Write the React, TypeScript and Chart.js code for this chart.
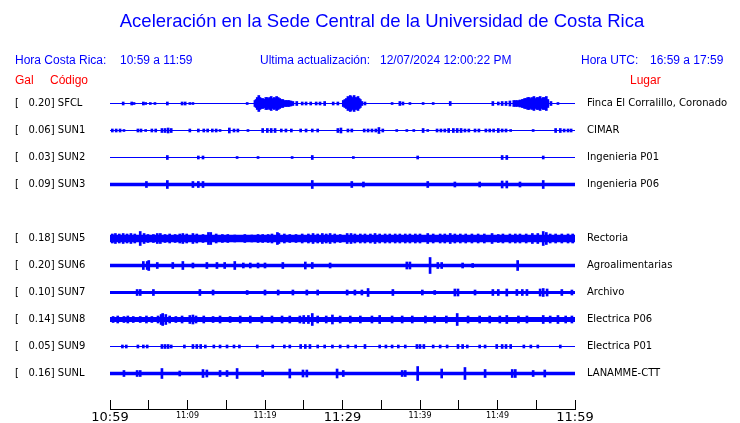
import React, { useEffect, useRef } from 'react';
import { Chart, registerables } from 'chart.js';

Chart.register(...registerables);

const TITLE = 'Aceleración en la Sede Central de la Universidad de Costa Rica';
const HEADER_BLUE: [string, number][] = [
  ['Hora Costa Rica:', 15],
  ['10:59 a 11:59', 120],
  ['Ultima actualización:', 260],
  ['12/07/2024 12:00:22 PM', 380],
  ['Hora UTC:', 581],
  ['16:59 a 17:59', 650],
];
const HEADER_RED: [string, number][] = [
  ['Gal', 15],
  ['Código', 50],
  ['Lugar', 630],
];

const CODES = ['SFCL', 'SUN1', 'SUN2', 'SUN3', 'SUN5', 'SUN6', 'SUN7', 'SUN8', 'SUN9', 'SUNL'];
const SLOTS = [0, 1, 2, 3, 5, 6, 7, 8, 9, 10];
const GAL = ['0.20', '0.06', '0.03', '0.09', '0.18', '0.20', '0.10', '0.14', '0.05', '0.16'];
const PLACES = [
  'Finca El Corralillo, Coronado',
  'CIMAR',
  'Ingenieria P01',
  'Ingenieria P06',
  'Rectoria',
  'Agroalimentarias',
  'Archivo',
  'Electrica P06',
  'Electrica P01',
  'LANAMME-CTT',
];
// background noise half-amplitude (display units) per station
const NOISE = [0.5, 0.5, 0.5, 1.7, 3.8, 1.8, 1.6, 2.4, 0.5, 1.8];

const X_TICK_LABELS = ['10:59', '', '11:09', '', '11:19', '', '11:29', '', '11:39', '', '11:49', '', '11:59'];

// [minute since 10:59, half amplitude]
const SFCL_EVENTS: [number, number][] = [
  [1.7, 1.5], [2.8, 1.5], [3.1, 1], [4.3, 1.5], [4.6, 1], [5.2, 1], [5.8, 1], [7.4, 1.5], [9.3, 1.5], [9.7, 1.5],
  [10.3, 1], [10.7, 1], [17.7, 1],
  [18.7, 3], [18.85, 4], [19.0, 6], [19.2, 8], [19.35, 6], [19.5, 5], [19.7, 5], [19.9, 4], [20.0, 4], [20.1, 6],
  [20.25, 6], [20.4, 5], [20.6, 6], [20.8, 7], [21.0, 5], [21.2, 6], [21.35, 5], [21.5, 7], [21.7, 6], [21.9, 5],
  [22.1, 4], [22.3, 4], [22.5, 3], [22.7, 3], [22.9, 3], [23.1, 3], [23.35, 2.5], [23.6, 2], [24.1, 2], [24.8, 1.5],
  [25.3, 1.5], [25.9, 1.5], [26.6, 1.5], [27.1, 1.5], [27.7, 2], [28.8, 1.5], [29.4, 1.5],
  [30.1, 3], [30.3, 4], [30.5, 5], [30.7, 7], [30.85, 6], [31.0, 8], [31.1, 7], [31.2, 6], [31.35, 5], [31.5, 8],
  [31.6, 6], [31.7, 5], [31.85, 6], [32.0, 7], [32.15, 5], [32.3, 4], [32.5, 2], [32.9, 1.5],
  [36.4, 1], [37.4, 2], [37.8, 1.5], [38.7, 1], [40.4, 1], [41.7, 1], [43.9, 2],
  [49.4, 2], [50.1, 1.5], [50.6, 2], [51.1, 2], [51.6, 2.5], [52.1, 3], [52.35, 3], [52.6, 3], [52.9, 3.5],
  [53.2, 4], [53.35, 4], [53.5, 5], [53.7, 5], [53.9, 6], [54.1, 6], [54.3, 5], [54.5, 6], [54.7, 7], [54.9, 5],
  [55.1, 6], [55.3, 6], [55.5, 7], [55.7, 5], [55.9, 6], [56.1, 6], [56.3, 7], [56.5, 4], [56.9, 2], [57.8, 1],
];
const SUN1_EVENTS: [number, number][] = [
  [0.3, 1.5], [0.8, 1.5], [1.3, 1.5], [1.8, 1], [3.6, 1.5], [4.0, 1.5], [4.6, 1], [5.4, 1.5], [5.9, 1.5],
  [6.7, 2], [7.1, 2], [7.5, 2.5], [7.9, 2], [10.3, 1.5], [11.4, 1.5], [12.1, 1.5], [12.6, 1.5], [13.2, 1.5],
  [13.7, 1.5], [14.2, 1], [15.4, 2.5], [16.0, 1.5], [16.5, 1.5], [17.8, 1], [19.7, 2], [20.3, 2], [20.8, 2],
  [21.3, 2], [22.1, 1.5], [22.7, 1.5], [23.4, 1.5], [24.6, 1.5], [25.3, 1.5], [26.1, 1.5], [26.8, 1.5],
  [29.4, 2], [29.8, 2.5], [30.7, 1.5], [31.2, 1.5], [32.8, 1.5], [33.3, 1.5], [33.8, 1.5], [34.3, 1.5],
  [34.7, 3], [35.2, 1.5], [37.0, 1], [38.3, 1], [39.2, 1], [40.4, 2], [41.0, 1], [42.2, 1.5], [42.7, 1.5],
  [43.2, 1.5], [43.7, 2], [44.3, 2], [44.8, 2], [45.3, 2], [45.8, 1.5], [46.3, 1.5], [47.1, 1.5], [47.6, 1.5],
  [48.5, 1.5], [49.0, 1.5], [49.5, 1.5], [50.1, 2], [50.6, 1.5], [51.1, 1.5], [51.7, 1], [54.6, 1],
  [57.5, 2], [58.1, 2], [58.6, 1.5], [59.1, 1.5], [59.5, 1.5],
];
const SUN2_EVENTS: [number, number][] = [
  [7.4, 2], [11.4, 1.5], [12.0, 1.5], [16.4, 1], [19.1, 1], [23.5, 1], [26.1, 2], [31.4, 1], [39.7, 1.5],
  [50.6, 2], [51.2, 2], [55.9, 1.5],
];
const SUN3_EVENTS: [number, number][] = [
  [4.7, 3], [7.4, 4], [10.7, 3], [11.4, 3], [12.0, 3], [26.1, 4], [31.2, 3], [32.7, 2.5], [41.0, 3],
  [44.5, 2.5], [47.7, 2.5], [50.6, 3.5], [51.2, 3.5], [52.9, 2.5], [55.9, 4],
];
const SUN5_EVENTS: [number, number][] = [
  [0.3, 4.5], [0.7, 5], [1.2, 4.5], [1.7, 5], [2.2, 4.5], [2.7, 5], [3.2, 4.5], [3.9, 7], [4.4, 5], [4.9, 4],
  [5.6, 4], [6.1, 5], [6.5, 5], [7.1, 4], [7.7, 4.5], [8.4, 4], [9.0, 4.5], [9.4, 5], [9.9, 4.5], [10.7, 5],
  [11.2, 4.5], [12.0, 4], [12.7, 6], [13.0, 6], [13.7, 4.5], [14.5, 4], [15.2, 4], [16.1, 3.5], [17.4, 4],
  [18.3, 3.5], [19.1, 4], [19.7, 4], [20.4, 4], [20.9, 4.5], [21.6, 6], [21.8, 5], [22.5, 4.5], [23.2, 4],
  [24.0, 4], [24.8, 4.5], [25.6, 4.5], [26.2, 5], [26.8, 4.5], [27.4, 5], [27.9, 4.5], [28.4, 5], [29.0, 4.5],
  [29.7, 4], [30.6, 5], [31.1, 5], [31.6, 4.5], [32.3, 4.5], [32.9, 4.5], [33.6, 4.5], [34.2, 5], [34.8, 4.5],
  [35.5, 4.5], [36.1, 4.5], [36.8, 4.5], [37.4, 4.5], [38.1, 4.5], [38.7, 4.5], [39.4, 4.5], [40.0, 4.5],
  [41.0, 5], [41.7, 4.5], [42.6, 4.5], [43.2, 4.5], [43.9, 5], [44.5, 4.5], [45.2, 4.5], [45.9, 4.5],
  [46.7, 4.5], [47.5, 4.5], [48.3, 4.5], [49.3, 5], [50.1, 4], [50.7, 4.5], [51.6, 4.5], [52.3, 4.5],
  [52.9, 4.5], [53.7, 4.5], [54.5, 5], [55.2, 5], [55.9, 7], [56.3, 6], [56.8, 4.5], [57.5, 4.5], [58.3, 4.5],
  [59.1, 4.5], [59.7, 4.5],
];
const SUN6_EVENTS: [number, number][] = [
  [4.3, 4], [4.8, 4], [5.0, 5], [6.1, 3], [8.1, 3], [9.4, 4], [10.7, 2.5], [12.5, 3], [13.8, 3], [14.8, 3],
  [16.1, 4], [17.2, 2.5], [18.1, 2.5], [19.1, 2.5], [20.0, 2.5], [22.3, 3], [25.2, 3.5], [26.1, 3], [28.4, 2.5],
  [38.3, 3.5], [38.7, 3.5], [41.3, 8], [42.3, 3], [42.8, 3], [45.5, 2.5], [46.8, 2], [52.6, 5],
];
const SUN7_EVENTS: [number, number][] = [
  [3.5, 3], [3.9, 3], [5.6, 3], [11.6, 3], [13.3, 2.5], [17.7, 2], [20.0, 2.5], [21.7, 2.5], [23.6, 2.5],
  [25.4, 2.5], [26.8, 2.5], [30.6, 2.5], [31.6, 2.5], [32.5, 2.5], [33.3, 4], [36.5, 3], [40.3, 2.5],
  [41.9, 2], [44.5, 3.5], [44.9, 3.5], [47.1, 2.5], [49.4, 3], [50.1, 3], [51.2, 3.5], [52.5, 3], [53.2, 3],
  [53.8, 3], [55.5, 3.5], [55.9, 4], [56.4, 3.5], [58.3, 3], [59.6, 2.5],
];
const SUN8_EVENTS: [number, number][] = [
  [0.4, 3], [1.0, 3.5], [1.8, 3], [2.3, 3.5], [3.0, 3], [3.9, 3], [4.7, 3.5], [5.4, 3], [6.2, 3.5], [6.6, 5],
  [6.8, 6], [7.2, 5], [7.7, 3.5], [8.5, 3], [9.3, 3.5], [10.3, 4], [10.7, 4.5], [11.1, 3.5], [12.1, 3.5],
  [13.3, 3], [14.2, 3.5], [15.5, 3], [16.8, 3.5], [18.1, 3.5], [19.6, 3.5], [20.9, 3.5], [22.2, 3.5],
  [23.2, 3.5], [24.5, 3.5], [25.0, 4], [25.6, 4], [26.1, 6], [26.8, 3.5], [27.9, 3.5], [28.7, 4.5],
  [29.7, 3.5], [31.0, 3.5], [32.3, 3.5], [33.8, 3.5], [34.8, 4], [36.4, 3.5], [37.7, 3.5], [39.0, 3.5],
  [40.7, 3.5], [41.9, 3.5], [43.4, 3.5], [44.8, 6], [46.2, 3.5], [47.7, 3.5], [49.0, 3.5], [50.3, 3.5],
  [51.2, 4], [52.7, 3.5], [53.8, 3.5], [55.9, 4], [56.8, 3.5], [57.8, 4], [58.8, 3.5], [59.6, 3.5],
];
const SUN9_EVENTS: [number, number][] = [
  [1.6, 1.5], [2.1, 1.5], [3.6, 1.5], [4.3, 1.5], [4.8, 1.5], [6.7, 2], [7.1, 2], [7.5, 2], [7.9, 1.5],
  [9.6, 1.5], [10.7, 2], [11.2, 2], [11.7, 2], [12.3, 1.5], [13.4, 1.5], [14.2, 1.5], [15.1, 1.5], [16.0, 1.5],
  [16.7, 1.5], [19.0, 1.5], [21.0, 1.5], [22.5, 1.5], [23.2, 1.5], [24.6, 2], [25.2, 2], [25.8, 2],
  [26.8, 1.5], [27.7, 1.5], [28.7, 1.5], [29.7, 1.5], [30.7, 1.5], [31.7, 1.5], [32.9, 2], [34.8, 1.5],
  [35.6, 1.5], [36.4, 1.5], [37.2, 1.5], [38.1, 1.5], [39.6, 2], [40.0, 2], [40.5, 2], [41.7, 1.5],
  [42.6, 1.5], [43.5, 1.5], [44.9, 2], [45.5, 2], [46.1, 1.5], [47.7, 1.5], [48.4, 1.5], [49.9, 2],
  [50.6, 2], [51.1, 2], [51.7, 2], [53.4, 1.5], [54.3, 1.5], [55.2, 1.5], [58.1, 1.5],
];
const SUNL_EVENTS: [number, number][] = [
  [1.8, 3], [3.5, 3], [3.9, 3], [6.7, 5], [9.0, 2.5], [12.0, 4], [12.5, 3.5], [14.2, 3], [15.1, 3], [16.4, 5],
  [19.7, 3], [23.2, 4.5], [24.9, 3.5], [25.4, 3.5], [29.3, 4.5], [30.1, 3], [37.7, 3], [38.1, 3], [39.7, 7],
  [42.8, 4.5], [45.8, 6], [48.4, 4], [51.9, 4], [52.3, 4], [54.6, 3], [56.1, 3.5],
];

const EVENTS = [
  SFCL_EVENTS, SUN1_EVENTS, SUN2_EVENTS, SUN3_EVENTS, SUN5_EVENTS,
  SUN6_EVENTS, SUN7_EVENTS, SUN8_EVENTS, SUN9_EVENTS, SUNL_EVENTS,
];

const BLUE = '#0000ff';
const RED = '#ff0000';
const SPACING = 27;

const headerPlugin = {
  id: 'header',
  afterDraw(chart: any) {
    const ctx = chart.ctx as CanvasRenderingContext2D;
    ctx.save();
    ctx.textBaseline = 'middle';
    ctx.fillStyle = BLUE;
    ctx.textAlign = 'center';
    ctx.font = '18.5px "Liberation Sans", Arial, sans-serif';
    ctx.fillText(TITLE, 382, 22);
    ctx.textAlign = 'left';
    ctx.font = '12px "Liberation Sans", Arial, sans-serif';
    HEADER_BLUE.forEach(([t, x]) => ctx.fillText(t, x, 61));
    ctx.fillStyle = RED;
    HEADER_RED.forEach(([t, x]) => ctx.fillText(t, x, 81));
    // time-axis base line along the bottom of the plot area
    const ca = chart.chartArea;
    ctx.fillStyle = '#000';
    ctx.fillRect(Math.round(ca.left), Math.round(ca.bottom), Math.round(ca.right - ca.left) + 1, 1);
    ctx.restore();
  },
};

export default function App() {
  const ref = useRef<HTMLCanvasElement | null>(null);

  useEffect(() => {
    if (!ref.current) return;
    const datasets: any[] = [];
    CODES.forEach((code, i) => {
      const c = SLOTS[i] * SPACING;
      const n = NOISE[i];
      datasets.push({
        type: 'line',
        label: code + ' noise',
        data: [{ x: 0, y: c - n }, { x: 60, y: c - n }],
        fill: { value: c + n },
        backgroundColor: BLUE,
        borderColor: BLUE,
        borderWidth: 0,
        pointRadius: 0,
      });
      datasets.push({
        type: 'bar',
        label: code,
        data: EVENTS[i].map(([m, a]) => ({ x: m, y: [c - a, c + a] })),
        backgroundColor: BLUE,
        borderWidth: 0,
        barThickness: 2,
        grouped: false,
      });
    });

    const slotTicks = (scale: any) => {
      scale.ticks = SLOTS.map((s) => ({ value: s * SPACING }));
    };
    const yRange = { min: -15.5, max: 305.5, reverse: true };

    const chart = new Chart(ref.current, {
      type: 'bar',
      data: { datasets },
      plugins: [headerPlugin],
      options: {
        animation: false,
        responsive: true,
        maintainAspectRatio: false,
        events: [],
        layout: { padding: { left: 15, top: 88, right: 0, bottom: 0 } },
        plugins: { legend: { display: false }, tooltip: { enabled: false }, title: { display: false } },
        scales: {
          x: {
            type: 'linear',
            min: 0,
            max: 60,
            offset: false,
            border: { display: true, color: '#000', width: 1 },
            grid: { offset: false, drawOnChartArea: false, tickLength: -9, color: '#000' },
            ticks: {
              stepSize: 5,
              autoSkip: false,
              maxRotation: 0,
              padding: 10.3,
              color: '#000',
              callback: (_v: any, i: number) => X_TICK_LABELS[i],
              font: (ctx: any) => {
                const big = ctx.tick && ctx.tick.value % 30 === 0;
                return big
                  ? { family: '"DejaVu Sans"', size: 13, lineHeight: '15.6px' }
                  : { family: '"DejaVu Sans"', size: 8, lineHeight: '11.4px' };
              },
            },
            afterFit: (s: any) => { s.height = 14; s.paddingTop = 0; s.paddingBottom = 0; },
          },
          y: {
            type: 'linear',
            position: 'left',
            ...yRange,
            border: { display: false },
            grid: { display: false, drawTicks: false },
            afterBuildTicks: slotTicks,
            afterFit: (s: any) => { s.width = 95; s.paddingTop = 0; s.paddingBottom = 0; },
            ticks: {
              autoSkip: false,
              crossAlign: 'far',
              color: '#000',
              font: { family: '"DejaVu Sans"', size: 10 },
              callback: (_v: any, i: number) => `[   ${GAL[i]}] ${CODES[i]}`,
            },
          },
          y2: {
            type: 'linear',
            position: 'right',
            ...yRange,
            border: { display: false },
            grid: { display: false, drawTicks: false },
            afterBuildTicks: slotTicks,
            afterFit: (s: any) => { s.width = 165; s.paddingTop = 0; s.paddingBottom = 0; },
            ticks: {
              autoSkip: false,
              crossAlign: 'near',
              padding: 12,
              color: '#000',
              font: { family: '"DejaVu Sans"', size: 10 },
              callback: (_v: any, i: number) => PLACES[i],
            },
          },
        },
      } as any,
    });
    return () => chart.destroy();
  }, []);

  return (
    <div style={{ position: 'absolute', left: 0, top: 0, width: 740, height: 423, background: '#fff' }}>
      <canvas ref={ref} />
    </div>
  );
}
